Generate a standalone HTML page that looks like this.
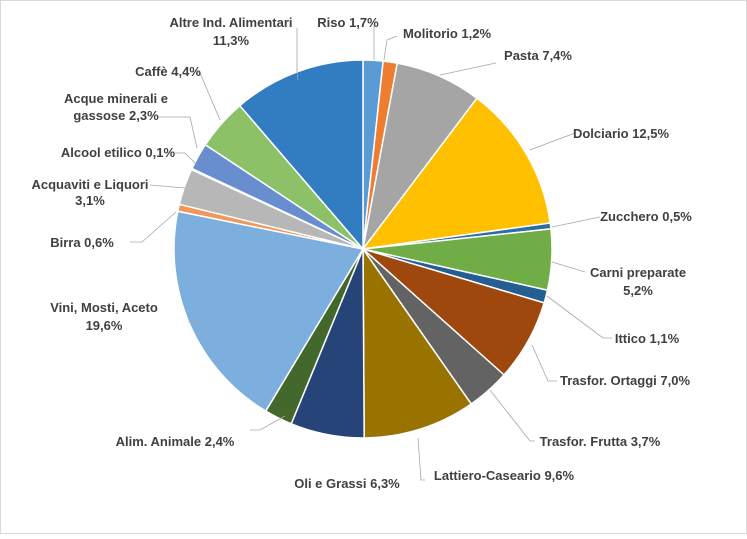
<!DOCTYPE html>
<html><head><meta charset="utf-8"><style>
body{margin:0;background:#fff;}
svg text{font-family:"Liberation Sans",sans-serif;font-weight:bold;font-size:13px;fill:#404040;}
</style></head><body>
<svg id="s" width="747" height="534" xmlns="http://www.w3.org/2000/svg">
<rect x="0.5" y="0.5" width="746" height="533" fill="#fff" stroke="#d9d9d9"/>
<g id="pie"></g>
<g stroke="#a6a6a6" stroke-width="0.8" fill="none">
<polyline points="297,28 297,70 298,80"/>
<polyline points="374,25 374,60"/>
<polyline points="397,36 387,40 384,60"/>
<polyline points="496,63 440,75"/>
<polyline points="575,133 530,150"/>
<polyline points="600,217 552,227"/>
<polyline points="585,272 552,262"/>
<polyline points="612,338 603,338 547,296"/>
<polyline points="557,381 548,381 532,345"/>
<polyline points="535,441 530,441 490,390"/>
<polyline points="425,480 421,480 418,438"/>
<polyline points="250,430 260,430 285,416"/>
<polyline points="188,322 200,322 196,318"/>
<polyline points="130,242 142,242 176,212"/>
<polyline points="150,185 185,188"/>
<polyline points="175,153 185,153 197,165"/>
<polyline points="158,117 190,117 197,148"/>
<polyline points="196,73 200,73 220,120"/>
</g>
<g id="lab">
<text x="231" y="27" text-anchor="middle">Altre Ind. Alimentari</text>
<text x="231" y="45" text-anchor="middle">11,3%</text>
<text x="348" y="27" text-anchor="middle">Riso 1,7%</text>
<text x="447" y="38" text-anchor="middle">Molitorio 1,2%</text>
<text x="538" y="60" text-anchor="middle">Pasta 7,4%</text>
<text x="621" y="138" text-anchor="middle">Dolciario 12,5%</text>
<text x="646" y="221" text-anchor="middle">Zucchero 0,5%</text>
<text x="638" y="277" text-anchor="middle">Carni preparate</text>
<text x="638" y="295" text-anchor="middle">5,2%</text>
<text x="647" y="343" text-anchor="middle">Ittico 1,1%</text>
<text x="625" y="385" text-anchor="middle">Trasfor. Ortaggi 7,0%</text>
<text x="600" y="446" text-anchor="middle">Trasfor. Frutta 3,7%</text>
<text x="504" y="480" text-anchor="middle">Lattiero-Caseario 9,6%</text>
<text x="347" y="488" text-anchor="middle">Oli e Grassi 6,3%</text>
<text x="175" y="446" text-anchor="middle">Alim. Animale 2,4%</text>
<text x="104" y="312" text-anchor="middle">Vini, Mosti, Aceto</text>
<text x="104" y="330" text-anchor="middle">19,6%</text>
<text x="82" y="247" text-anchor="middle">Birra 0,6%</text>
<text x="90" y="189" text-anchor="middle">Acquaviti e Liquori</text>
<text x="90" y="205" text-anchor="middle">3,1%</text>
<text x="118" y="157" text-anchor="middle">Alcool etilico 0,1%</text>
<text x="116" y="103" text-anchor="middle">Acque minerali e</text>
<text x="116" y="120" text-anchor="middle">gassose 2,3%</text>
<text x="168" y="76" text-anchor="middle">Caffè 4,4%</text>
</g>
</svg>
<script>
var d=[[1.7,"#5B9BD5"],[1.2,"#ED7D31"],[7.4,"#A5A5A5"],[12.5,"#FFC000"],[0.5,"#2E6CA4"],[5.2,"#70AD47"],[1.1,"#255E91"],[7.0,"#9E480E"],[3.7,"#636363"],[9.6,"#997300"],[6.3,"#264478"],[2.4,"#43682B"],[19.6,"#7CAFDD"],[0.6,"#F1975A"],[3.1,"#B7B7B7"],[0.1,"#FFCD33"],[2.3,"#698ED0"],[4.4,"#8CC168"],[11.3,"#327DC2"]];
var cx=363,cy=249,r=189,a=0,g=document.getElementById("pie"),h="";
d.forEach(function(e){var a0=a/100*2*Math.PI;a+=e[0];var a1=a/100*2*Math.PI;
var x0=cx+r*Math.sin(a0),y0=cy-r*Math.cos(a0),x1=cx+r*Math.sin(a1),y1=cy-r*Math.cos(a1);
h+='<path d="M'+cx+','+cy+'L'+x0+','+y0+'A'+r+','+r+' 0 '+(e[0]>50?1:0)+' 1 '+x1+','+y1+'Z" fill="'+e[1]+'" stroke="#fff" stroke-width="1.5"/>';});
g.innerHTML=h;
</script>
</body></html>
